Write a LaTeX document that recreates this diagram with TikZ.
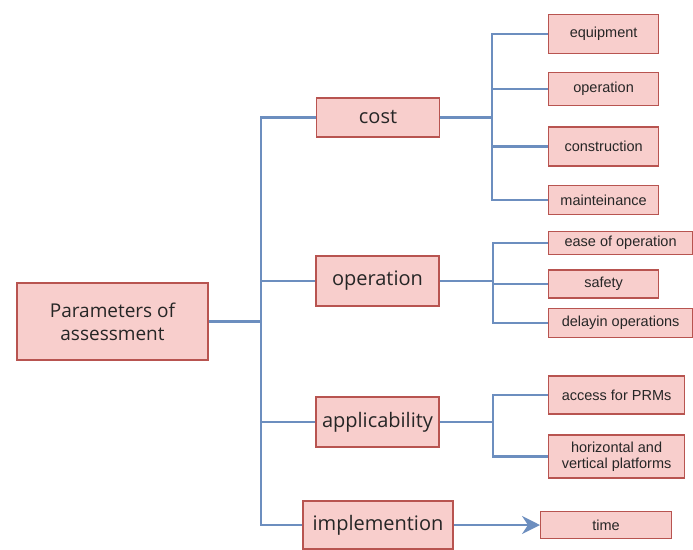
\documentclass[tikz,border=0pt]{standalone}
\usepackage{fontspec}
\setmainfont{Liberation Sans}
\newfontfamily\handfont{Open Sans}
\usetikzlibrary{arrows.meta}
\definecolor{boxfill}{HTML}{F8CECC}
\definecolor{boxline}{HTML}{B85450}
\definecolor{linkblue}{HTML}{6C8EBF}

\begin{document}
\begin{tikzpicture}[
	x=1pt, y=-1pt,
	box/.style={rectangle,draw=boxline,fill=boxfill,line width=1.2pt,inner sep=1pt,align=center,text=black!85},
	root/.style={box,minimum width=191pt,minimum height=77pt,font=\handfont\fontsize{19}{23}\selectfont},
	param/.style={box,minimum width=123pt,minimum height=50pt,font=\handfont\fontsize{20}{24}\selectfont},
	leaf/.style={box,anchor=west,minimum width=110pt,font=\fontsize{14.5}{16}\selectfont},
	link/.style={draw=linkblue,line width=2.5pt},
	]
	\useasboundingbox (0,0) rectangle (693,549);
	
	% root and trunk
	\node[root] (root) at (112.5,321.5) {Parameters of\\assessment};
	\coordinate (trunk) at (261,321.5);
	
	\node[param,minimum height=39pt] (cost) at (378,117.5) {cost};
	\node[param] (oper) at (377.5,281) {operation};
	\node[param] (appl) at (377.5,422) {applicability};
	\node[param,minimum width=150pt,minimum height=48pt] (impl) at (378,525) {implemention};
	
	\draw[link] (root.east) -- (trunk);
	\foreach \n in {cost,oper,appl,impl}
	\draw[link] (trunk) |- (\n.west);
	
	% cost
	\node[leaf,minimum height=39pt] (equip) at (548,34) {equipment};
	\node[leaf,minimum height=33pt] (costop) at (548,89) {operation};
	\node[leaf,minimum height=39pt] (constr) at (548,146.5) {construction};
	\node[leaf,minimum height=29pt] (maint) at (548,200) {mainteinance};
	\coordinate (costfork) at (492,117.5);
	\draw[link] (cost.east) -- (costfork);
	\foreach \n in {equip,costop,constr,maint}
	\draw[link] (costfork) |- (\n.west);
	
	% operation
	\node[leaf,minimum width=144pt,minimum height=23pt] (ease) at (548,243) {ease of operation};
	\node[leaf,minimum height=28pt] (safety) at (548,284) {safety};
	\node[leaf,minimum width=144pt,minimum height=29pt] (delay) at (548,323) {delayin operations};
	\coordinate (operfork) at (493,281);
	\draw[link] (oper.east) -- (operfork);
	\foreach \n in {ease,safety,delay}
	\draw[link] (operfork) |- (\n.west);
	
	% applicability
	\node[leaf,minimum width=136pt,minimum height=38pt] (access) at (548,395) {access for PRMs};
	\node[leaf,minimum width=136pt,minimum height=43pt] (platforms) at (548,456.5) {horizontal and\\vertical platforms};
	\coordinate (applfork) at (493,422);
	\draw[link] (appl.east) -- (applfork);
	\foreach \n in {access,platforms}
	\draw[link] (applfork) |- (\n.west);
	
	% implementation
	\node[leaf,minimum width=131pt,minimum height=27pt] (time) at (540,525) {time};
	\draw[link,-{Stealth[length=18pt,width=18pt,inset=6pt]}] (impl.east) -- (time.west);
\end{tikzpicture}
\end{document}
